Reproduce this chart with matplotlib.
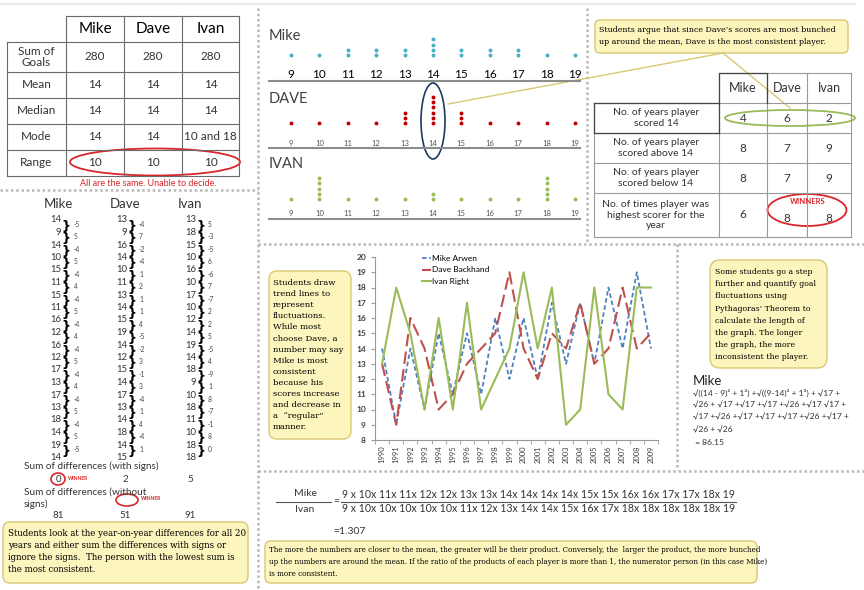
import numpy as np
import matplotlib
matplotlib.use('Agg')
import matplotlib.pyplot as plt
from matplotlib.patches import Ellipse, FancyBboxPatch

plt.rcParams['font.family'] = ['Lato', 'DejaVu Sans']

# --- data ---
years = list(range(1990, 2010))
mike = [14, 9, 14, 10, 15, 11, 15, 11, 16, 12, 16, 12, 17, 13, 17, 13, 18, 14, 19, 14]
dave = [13, 9, 16, 14, 10, 11, 13, 14, 15, 19, 14, 12, 15, 14, 17, 13, 14, 18, 14, 15]
ivan = [13, 18, 15, 10, 16, 10, 17, 10, 12, 14, 19, 14, 18, 9, 10, 18, 11, 10, 18, 18]
players = ['Mike', 'Dave', 'Ivan']
legend_names = ['Mike Arwen', 'Dave Backhand', 'Ivan Right']

stat_rows = ['Sum of\nGoals', 'Mean', 'Median', 'Mode', 'Range']
stat_mike = ['280', '14', '14', '14', '10']
stat_dave = ['280', '14', '14', '14', '10']
stat_ivan = ['280', '14', '14', '10 and 18', '10']

count_rows = ['No. of years player\nscored 14', 'No. of years player\nscored above 14',
              'No. of years player\nscored below 14',
              'No. of times player was\nhighest scorer for the\nyear']
count_mike = ['4', '8', '8', '6']
count_dave = ['6', '7', '7', '8']
count_ivan = ['2', '9', '9', '8']

sum_signed = ['0', '2', '5']
sum_abs = ['81', '51', '91']
ratio_text = '=1.307'
length_lines = ['\u221a((14 - 9)\u00b2 + 1\u00b2) +\u221a((9-14)\u00b2 + 1\u00b2) + \u221a17 +',
                '\u221a26 + \u221a17 +\u221a17 +\u221a17 +\u221a26 +\u221a17 \u221a17 +',
                '\u221a17 +\u221a26 +\u221a17 +\u221a17 +\u221a17 +\u221a26 +\u221a17 +',
                '\u221a26 + \u221a26',
                ' = 86.15']

note_consistent = ['Students argue that since Dave\u2019s scores are most bunched',
                   'up around the mean, Dave is the most consistent player.']
note_trend = ['Students draw', 'trend lines to', 'represent', 'fluctuations.', 'While most',
              'choose Dave, a', 'number may say', 'Mike is most', 'consistent', 'because his',
              'scores increase', 'and decrease in', 'a  \u201cregular\u201d', 'manner.']
note_pyth = ['Some students go a step', 'further and quantify goal', 'fluctuations using',
             'Pythagoras\u2019 Theorem to', 'calculate the length of', 'the graph. The longer',
             'the graph, the more', 'inconsistent the player.']
note_diff = ['Students look at the year-on-year differences for all 20',
             'years and either sum the differences with signs or',
             'ignore the signs.  The person with the lowest sum is',
             'the most consistent.']
note_prod = ['The more the numbers are closer to the mean, the greater will be their product. Conversely, the  larger the product, the more bunched',
             'up the numbers are around the mean. If the ratio of the products of each player is more than 1, the numerator person (in this case Mike)',
             'is more consistent.']

W, H = 864, 590
fig = plt.figure(figsize=(W / 100, H / 100), dpi=100)
ax0 = fig.add_axes([0, 0, 1, 1])
ax0.set_xlim(0, W)
ax0.set_ylim(H, 0)
ax0.axis('off')


def box(x, y, w, h):
    return [x / W, 1 - (y + h) / H, w / W, h / H]


red = '#d9262b'
fill_y = '#fcf5bd'
edge_y = '#d9c873'
serif = ['DejaVu Serif']

# --- panel separators ---
ax0.plot([0, 855], [4, 4], color='#e8e8e8', lw=1.5)
sep = dict(color='#b8b8b8', lw=1.8, ls=(0, (1, 1.1)))
ax0.plot([258, 258], [8, 590], **sep)
ax0.plot([0, 258], [190, 190], **sep)
ax0.plot([587, 587], [8, 243], **sep)
ax0.plot([258, 864], [244, 244], **sep)
ax0.plot([677, 677], [244, 470], **sep)
ax0.plot([258, 864], [471, 471], **sep)

# --- top left table ---
cx = [7, 66, 124, 182, 239]
ry = [16, 42, 72, 98, 124, 150, 176]
lc = '#6a6a6a'
ax0.plot([66, 239], [16, 16], color=lc, lw=0.8)
for y in ry[1:]:
    ax0.plot([7, 239], [y, y], color=lc, lw=0.8)
ax0.plot([7, 7], [42, 176], color=lc, lw=0.8)
for x in cx[1:]:
    ax0.plot([x, x], [16, 176], color=lc, lw=0.8)
for j, p in enumerate(players):
    ax0.text((cx[j + 1] + cx[j + 2]) / 2, 29, p, ha='center', va='center', fontsize=11)
for i, (lab, a, b, c) in enumerate(zip(stat_rows, stat_mike, stat_dave, stat_ivan)):
    yc = (ry[i + 1] + ry[i + 2]) / 2
    ax0.text(36.5, yc, lab, ha='center', va='center', fontsize=8.5, color='#333333', linespacing=1.1)
    for j, v in enumerate([a, b, c]):
        ax0.text((cx[j + 1] + cx[j + 2]) / 2, yc, v, ha='center', va='center', fontsize=8.5, color='#333333')
ax0.add_patch(Ellipse((155, 162), 170, 27, fill=False, ec=red, lw=1.3))
ax0.text(148, 183, 'All are the same. Unable to decide.', ha='center', va='center',
         fontsize=6.5, color=red)

# --- dot plots ---
dot_cfg = [(mike, '#4bacc6', 'Mike', 36, 55, 81, 74, 8.5, 'black'),
           (dave, '#c00000', 'DAVE', 99, 123, 148, 143, 5.5, '#555555'),
           (ivan, '#9bbb59', 'IVAN', 164, 199, 219, 213, 5.5, '#555555')]
step = 5.2
for goals, col, name, ny, base, line, ty, tfs, tcol in dot_cfg:
    top = base - 45
    ax = fig.add_axes(box(269, top, 311, line - top))
    y0 = -(line - base) / step
    ax.set_ylim(y0, y0 + (line - top) / step)
    ax.set_xlim(8.225, 19.18)
    vals, cnts = np.unique(goals, return_counts=True)
    for v, c in zip(vals, cnts):
        ax.scatter([v] * c, np.arange(c), s=8, color=col, lw=0)
        ax.text(v, (base - ty) / step, str(v), ha='center', va='center', fontsize=tfs, color=tcol)
    for s in ['top', 'left', 'right']:
        ax.spines[s].set_visible(False)
    ax.spines['bottom'].set_color('#8c8c8c')
    ax.spines['bottom'].set_linewidth(1.5)
    ax.set_xticks([])
    ax.set_yticks([])
    ax.patch.set_alpha(0)
    ax0.text(269, ny, name, ha='left', va='center', fontsize=10.5, color='#404040')
ax0.add_patch(Ellipse((433, 121), 24, 76, fill=False, ec='#1f3864', lw=1.2))

# --- callout top right ---
ax0.plot([448, 723], [104, 53], color=edge_y, lw=1)
ax0.plot([723, 790], [53, 108], color=edge_y, lw=1)
ax0.add_patch(FancyBboxPatch((595, 20), 253, 33, boxstyle='round,pad=0,rounding_size=5',
                             fc=fill_y, ec=edge_y, lw=1))
for k, t in enumerate(note_consistent):
    ax0.text(599, 30 + k * 12.5, t, ha='left', va='center', fontsize=5.7, family=serif)

# --- right table ---
tx = [594, 719, 767, 807, 851]
ty_ = [73, 103, 133, 163, 193, 237]
lc2 = '#9a9a9a'
ax0.plot([719, 851], [73, 73], color=lc2, lw=0.8)
for y in ty_[1:]:
    ax0.plot([594, 851], [y, y], color=lc2, lw=0.8)
ax0.plot([594, 594], [103, 237], color=lc2, lw=0.8)
for x in tx[1:]:
    ax0.plot([x, x], [73, 237], color=lc2, lw=0.8)
ax0.plot([594, 719, 719], [103, 103, 133], color='#444444', lw=0.9)
ax0.plot([594, 594, 719], [103, 133, 133], color='#444444', lw=0.9)
ax0.plot([719, 719, 767, 767], [103, 73, 73, 103], color='#444444', lw=0.9)
for j, p in enumerate(players):
    ax0.text((tx[j + 1] + tx[j + 2]) / 2, 88, p, ha='center', va='center', fontsize=9, color='#333333')
for i, (lab, a, b, c) in enumerate(zip(count_rows, count_mike, count_dave, count_ivan)):
    yc = (ty_[i + 1] + ty_[i + 2]) / 2
    ax0.text(656, yc, lab, ha='center', va='center', fontsize=7.5, color='#333333', linespacing=1.15)
    for j, v in enumerate([a, b, c]):
        yy = yc + (3 if i == 3 and j > 0 else 0)
        ax0.text((tx[j + 1] + tx[j + 2]) / 2, yy, v, ha='center', va='center', fontsize=8.5, color='#333333')
ax0.add_patch(Ellipse((790, 118), 130, 16, fill=False, ec='#9bbb59', lw=1.3))
ax0.add_patch(Ellipse((807, 210), 79, 32, fill=False, ec=red, lw=1.3))
ax0.text(808, 202, 'WINNERS', ha='center', va='center', fontsize=5.5, color=red, weight='bold')

# --- year-on-year differences ---
col_x = [(58, 61, 74), (125, 127, 139), (190, 196, 208)]
row0, dy = 220, 12.5
for (hx, nx, dx), p, goals in zip(col_x, players, [mike, dave, ivan]):
    ax0.text(hx, 204, p, ha='center', va='center', fontsize=9.5, color='#333333')
    d = np.diff(goals)
    for k, v in enumerate(goals):
        ax0.text(nx, row0 + k * dy, str(v), ha='right', va='center', fontsize=6.8, color='#333333')
    for k, v in enumerate(d):
        ym = row0 + (k + 0.5) * dy
        ax0.text(nx + 0.5, ym, '}', ha='left', va='center', fontsize=9, family=['DejaVu Sans'],
                 weight='bold')
        ax0.text(dx, ym - 2, str(int(v)), ha='left', va='center', fontsize=4.8, color='#444444')
ax0.text(24, 466, 'Sum of differences (with signs)', ha='left', va='center', fontsize=7.2, color='#333333')
ax0.text(24, 492, 'Sum of differences (without', ha='left', va='center', fontsize=7.2, color='#333333')
ax0.text(24, 504, 'signs)', ha='left', va='center', fontsize=7.2, color='#333333')
for (hx, nx, dx), a, b in zip(col_x, sum_signed, sum_abs):
    ax0.text(hx, 479, a, ha='center', va='center', fontsize=7, color='#333333')
    ax0.text(hx, 516, b, ha='center', va='center', fontsize=7, color='#333333')
ax0.add_patch(Ellipse((58, 479), 14, 12, fill=False, ec=red, lw=1.2))
ax0.text(68, 479, 'WINNER', ha='left', va='center', fontsize=3.6, color=red, weight='bold')
ax0.add_patch(Ellipse((127, 500), 22, 12, fill=False, ec=red, lw=1.2))
ax0.text(141, 498, 'WINNER', ha='left', va='center', fontsize=3.6, color=red, weight='bold')
ax0.add_patch(FancyBboxPatch((3, 522), 245, 61, boxstyle='round,pad=0,rounding_size=7',
                             fc=fill_y, ec=edge_y, lw=1))
for k, t in enumerate(note_diff):
    ax0.text(8, 533 + k * 12.3, t, ha='left', va='center', fontsize=6.2, family=serif)

# --- line chart ---
ax0.add_patch(FancyBboxPatch((269, 271), 82, 168, boxstyle='round,pad=0,rounding_size=8',
                             fc=fill_y, ec=edge_y, lw=1))
for k, t in enumerate(note_trend):
    ax0.text(273, 283 + k * 11.1, t, ha='left', va='center', fontsize=6.1, family=serif)
axc = fig.add_axes(box(375, 257, 283, 183))
xs = np.arange(len(years))
axc.plot(xs, mike, color='#4f81bd', lw=1.3, ls=(0, (2.5, 1.5)), label=legend_names[0])
axc.plot(xs, dave, color='#c0504d', lw=1.5, ls=(0, (6, 2.5)), label=legend_names[1])
axc.plot(xs, ivan, color='#9bbb59', lw=1.5, label=legend_names[2])
axc.set_xlim(-0.5, len(years) - 0.5)
axc.set_ylim(8, 20)
axc.set_yticks(range(8, 21))
axc.set_xticks(xs)
axc.set_xticklabels([str(y) for y in years], rotation=90, fontsize=5.5, color='#404040')
axc.set_xticks(np.arange(-0.5, len(years), 1), minor=True)
axc.tick_params(axis='x', which='major', length=0, pad=4)
axc.tick_params(axis='x', which='minor', length=3, color='#999999')
axc.tick_params(axis='y', length=3, color='#999999', labelsize=6, labelcolor='#404040')
for t in axc.get_yticklabels():
    t.set_fontweight('bold')
for s in ['top', 'right']:
    axc.spines[s].set_visible(False)
for s in ['left', 'bottom']:
    axc.spines[s].set_color('#999999')
    axc.spines[s].set_linewidth(0.8)
axc.patch.set_alpha(0)
axc.legend(loc='upper left', bbox_to_anchor=(0.155, 1.03), frameon=False, fontsize=6,
           handlelength=1.0, handletextpad=0.2, labelspacing=0.55, borderaxespad=0)

# --- Pythagoras ---
ax0.add_patch(FancyBboxPatch((710, 260), 117, 108, boxstyle='round,pad=0,rounding_size=10',
                             fc=fill_y, ec=edge_y, lw=1))
for k, t in enumerate(note_pyth):
    ax0.text(715, 272 + k * 12.2, t, ha='left', va='center', fontsize=5.6, family=serif)
ax0.text(693, 381, 'Mike', ha='left', va='center', fontsize=9.5, color='#222222')
for k, t in enumerate(length_lines):
    ax0.text(693, 393 + k * 12.3, t, ha='left', va='center', fontsize=6.1, color='#333333')

# --- product ratio ---
ms = sorted(mike)
iv = sorted(ivan)
num = f"{ms[0]} x " + "x ".join(str(v) for v in ms[1:])
den = f"{iv[0]} x " + "x ".join(str(v) for v in iv[1:])
ax0.text(305, 494, 'Mike', ha='center', va='center', fontsize=7.5, color='#333333')
ax0.text(305, 509, 'Ivan', ha='center', va='center', fontsize=7.5, color='#333333')
ax0.plot([276, 331], [502, 502], color='#555555', lw=0.8)
ax0.text(336, 502, '=', ha='center', va='center', fontsize=7.5, color='#333333')
ax0.plot([341, 736], [502, 502], color='#555555', lw=0.8)
ax0.text(342, 494, num, ha='left', va='center', fontsize=7.6, color='#333333')
ax0.text(342, 509, den, ha='left', va='center', fontsize=7.6, color='#333333')
ax0.text(333, 531, ratio_text, ha='left', va='center', fontsize=7.5, color='#333333')
ax0.add_patch(FancyBboxPatch((265, 541), 492, 42, boxstyle='round,pad=0,rounding_size=6',
                             fc=fill_y, ec=edge_y, lw=1))
for k, t in enumerate(note_prod):
    ax0.text(269, 550 + k * 12, t, ha='left', va='center', fontsize=5.1, family=serif)

fig.savefig('out.png', dpi=100)
